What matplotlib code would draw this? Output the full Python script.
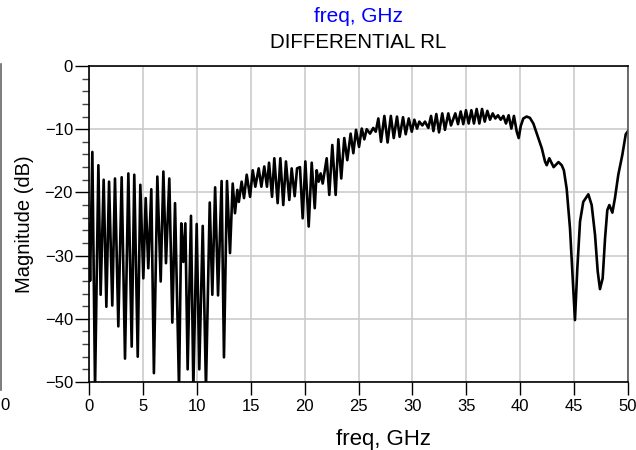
import matplotlib
matplotlib.use('Agg')
import matplotlib.pyplot as plt
from matplotlib.ticker import MultipleLocator

plt.rcParams['font.family'] = ['Liberation Sans', 'DejaVu Sans']

# differential return loss (peaks and nulls)
freq_lo = [0.00, 0.10, 0.31, 0.56, 0.87, 1.08, 1.36, 1.61, 1.86, 2.16, 2.41, 2.72,
           3.03, 3.34, 3.65, 3.96, 4.20, 4.52, 4.76, 5.04, 5.26, 5.50, 5.78, 6.02,
           6.34, 6.65, 6.90, 7.14, 7.45, 7.73, 7.98, 8.35, 8.56, 8.75, 8.94, 9.15,
           9.46, 9.68, 9.99, 10.23, 10.55, 10.85, 11.20, 11.44, 11.70, 11.97, 12.30,
           12.52, 12.80, 13.08]
mag_lo = [-25.0, -34.0, -13.6, -51.0, -15.7, -36.2, -18.0, -38.1, -18.3, -37.9, -17.8, -41.2,
          -17.6, -46.3, -17.0, -44.4, -17.2, -46.0, -18.8, -33.6, -20.9, -32.0, -19.5, -48.6,
          -17.5, -34.1, -16.7, -31.2, -17.8, -40.6, -21.7, -51.0, -24.9, -31.0, -24.9, -48.0,
          -23.7, -51.0, -25.0, -48.0, -25.3, -51.0, -21.6, -36.2, -19.2, -36.3, -18.2,
          -46.1, -18.2, -29.6]

freq_mid = [13.33, 13.54, 13.76, 13.90, 14.16, 14.38, 14.63, 14.94, 15.19, 15.43, 15.74,
            15.99, 16.26, 16.51, 16.70, 16.98, 17.19, 17.50, 17.75, 18.02, 18.27, 18.58,
            18.80, 19.08, 19.30, 19.57, 19.82, 20.07, 20.38, 20.66, 20.94, 21.12, 21.30,
            21.49, 21.68, 22.05, 22.29, 22.57, 22.88, 23.13, 23.40, 23.68, 23.96, 24.27,
            24.52, 24.77, 25.05, 25.30, 25.54, 25.76, 26.07, 26.37, 26.60]
mag_mid = [-18.6, -23.3, -19.6, -21.5, -18.3, -20.9, -17.2, -20.7, -16.5, -19.1, -16.2,
           -19.1, -15.9, -19.1, -15.3, -20.7, -14.6, -21.7, -14.6, -22.0, -15.1, -21.2,
           -16.2, -20.6, -16.2, -16.0, -24.1, -15.1, -25.4, -15.3, -22.5, -16.5, -18.3,
           -17.0, -18.6, -14.6, -20.4, -12.5, -20.4, -11.6, -17.8, -11.4, -14.9, -10.7,
           -13.8, -10.1, -12.8, -9.9, -11.6, -10.0, -10.7, -9.8, -10.4]

freq_hi = [26.84, 27.09, 27.40, 27.70, 28.00, 28.27, 28.57, 28.82, 29.13, 29.38, 29.66,
           29.94, 30.18, 30.43, 30.64, 30.92, 31.17, 31.48, 31.73, 31.95, 32.22, 32.47,
           32.77, 33.02, 33.33, 33.58, 33.98, 34.23, 34.48, 34.72, 34.97, 35.22, 35.47,
           35.71, 35.96, 36.21, 36.46, 36.71, 36.95, 37.20, 37.45, 37.69, 37.94, 38.19,
           38.44, 38.68, 38.93, 39.18, 39.42, 39.68, 39.86, 40.05, 40.29]
mag_hi = [-8.3, -12.0, -7.9, -12.1, -7.9, -11.4, -8.0, -11.2, -8.1, -10.8, -8.3,
          -10.4, -8.5, -9.9, -8.8, -9.4, -8.8, -9.8, -7.9, -10.3, -7.6, -10.5,
          -7.5, -10.1, -7.5, -9.4, -7.5, -9.2, -7.2, -9.2, -7.0, -9.1, -7.0,
          -9.1, -6.8, -9.1, -6.8, -8.8, -7.1, -8.5, -7.5, -8.3, -7.8, -8.5,
          -7.9, -9.1, -7.8, -9.9, -7.9, -10.4, -11.4, -9.5, -8.3]

freq_top = [40.60, 40.90, 41.22, 41.68, 42.00, 42.30, 42.46, 42.70, 43.10, 43.55, 43.85,
            44.05, 44.31, 44.62, 44.87, 45.08, 45.30, 45.55, 45.85, 46.32, 46.63, 46.94,
            47.19, 47.40, 47.65, 47.87, 48.08, 48.27, 48.55, 48.79, 49.10, 49.47, 49.79,
            50.00]
mag_top = [-8.0, -8.2, -9.1, -11.4, -13.0, -15.1, -15.7, -14.6, -16.0, -15.2, -15.7,
           -16.5, -19.4, -25.7, -33.6, -40.2, -32.0, -24.6, -21.5, -20.3, -22.0, -26.7,
           -32.5, -35.3, -33.6, -27.3, -22.8, -22.0, -23.2, -20.9, -17.2, -14.1, -10.8,
           -10.3]

freq = freq_lo + freq_mid + freq_hi + freq_top
mag = mag_lo + mag_mid + mag_hi + mag_top

fig = plt.figure(figsize=(6.36, 4.5), dpi=100)
ax = fig.add_axes([89/636, 1 - 382/450, 539/636, 316/450])

ax.plot(freq, mag, color='black', linewidth=1.9, solid_joinstyle='round')

ax.set_xlim(0, 50)
ax.set_ylim(-50, 0)
ax.xaxis.set_major_locator(MultipleLocator(5))
ax.yaxis.set_major_locator(MultipleLocator(10))
ax.yaxis.set_minor_locator(MultipleLocator(2))
ax.grid(True, which='major', color='#cccccc', linewidth=1.2)
ax.set_axisbelow(True)

ax.tick_params(axis='y', which='major', direction='out', length=10, width=1.0,
               pad=1.5, labelsize=12)
ax.tick_params(axis='y', which='minor', direction='out', length=5, width=1.0,
               color='#444444')
ax.tick_params(axis='x', which='major', direction='out', length=9, width=1.0,
               pad=3, labelsize=12)
for s in ['top', 'bottom', 'left']:
    ax.spines[s].set_linewidth(1.2)
ax.spines['right'].set_color('#555555')
ax.spines['right'].set_linewidth(1.2)

cx = (89 + 628) / 2 / 636
fig.text(cx, 1 - 16/450, 'freq, GHz', color='#0000ff', fontsize=15,
         ha='center', va='center')
fig.text(cx, 1 - 43/450, 'DIFFERENTIAL RL', color='black', fontsize=14.8,
         ha='center', va='center')
fig.text(383/636, 1 - 439/450, 'freq, GHz', fontsize=16, ha='center', va='center')
fig.text(25/636, 1 - 224/450, 'Magnitude (dB)', fontsize=14.5, rotation=90,
         ha='center', va='center')

# leftover of a neighbouring plot at the left edge
fig.add_artist(plt.Line2D([0.001, 0.001], [1 - 390/450, 1 - 64/450],
                          color='#666666', linewidth=1.2, transform=fig.transFigure))
fig.text(0.0, 1 - 405/450, '0', fontsize=12, ha='left', va='center')

fig.savefig('out.png', dpi=100)
